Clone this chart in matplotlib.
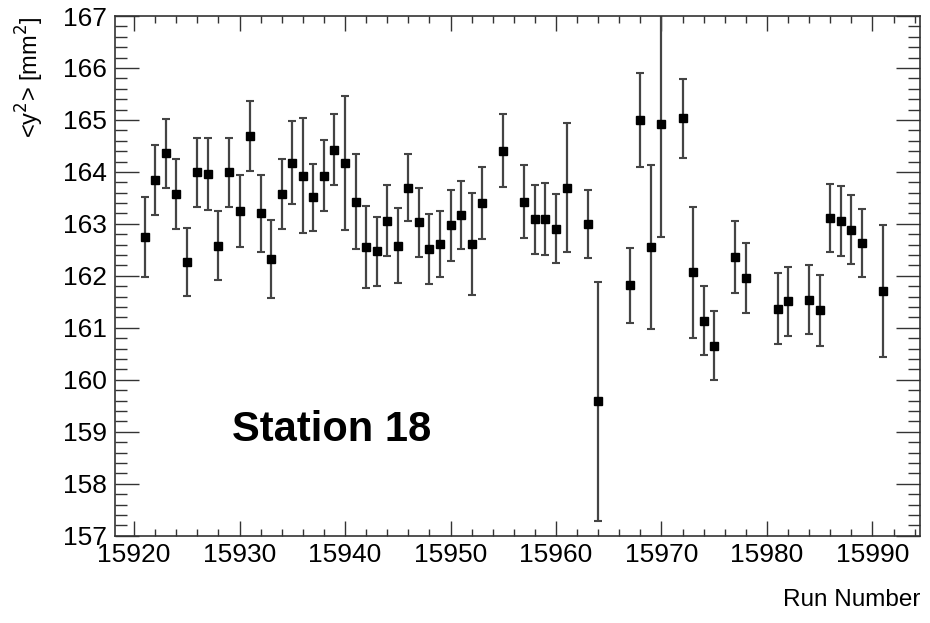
import matplotlib
matplotlib.use("Agg")
import matplotlib.pyplot as plt
from matplotlib.ticker import MultipleLocator

plt.rcParams['font.family'] = ['Liberation Sans', 'DejaVu Sans']

# Run numbers, mean <y^2> values and errors
runs = [15921, 15922, 15923, 15924, 15925, 15926, 15927, 15928, 15929, 15930,
        15931, 15932, 15933, 15934, 15935, 15936, 15937, 15938, 15939, 15940,
        15941, 15942, 15943, 15944, 15945, 15946, 15947, 15948, 15949, 15950,
        15951, 15952, 15953, 15955, 15957, 15958, 15959, 15960, 15961, 15963,
        15964, 15967, 15968, 15969, 15970, 15972, 15973, 15974, 15975, 15977,
        15978, 15981, 15982, 15984, 15985, 15986, 15987, 15988, 15989, 15991]
y2_mean = [162.75, 163.84, 164.36, 163.57, 162.27, 163.99, 163.96, 162.58, 163.99, 163.25,
           164.69, 163.20, 162.32, 163.57, 164.18, 163.93, 163.51, 163.93, 164.43, 164.18,
           163.43, 162.56, 162.47, 163.06, 162.58, 163.70, 163.03, 162.52, 162.61, 162.97,
           163.17, 162.61, 163.40, 164.41, 163.43, 163.09, 163.09, 162.91, 163.70, 163.00,
           159.59, 161.82, 165.00, 162.56, 164.92, 165.03, 162.07, 161.14, 160.66, 162.36,
           161.96, 161.37, 161.51, 161.54, 161.34, 163.11, 163.06, 162.89, 162.63, 161.71]
y2_err = [0.77, 0.67, 0.66, 0.67, 0.65, 0.67, 0.69, 0.66, 0.66, 0.69,
          0.68, 0.74, 0.75, 0.67, 0.80, 1.11, 0.65, 0.68, 0.69, 1.29,
          0.92, 0.79, 0.66, 0.68, 0.72, 0.65, 0.66, 0.67, 0.64, 0.68,
          0.65, 0.98, 0.70, 0.70, 0.70, 0.66, 0.69, 0.66, 1.25, 0.65,
          2.30, 0.72, 0.90, 1.58, 2.17, 0.76, 1.26, 0.67, 0.67, 0.69,
          0.67, 0.68, 0.66, 0.66, 0.68, 0.66, 0.67, 0.66, 0.66, 1.27]

fig = plt.figure(figsize=(9.3, 6.23), dpi=100)
ax = fig.add_axes([0.1237, 0.1401, 0.8655, 0.8342])

ax.errorbar(runs, y2_mean, yerr=y2_err, fmt='s', color='black', markersize=5.8,
            ecolor='#444444', elinewidth=1.6, capsize=3.2, capthick=1.5)

ax.set_xlim(15918.2, 15994.5)
ax.set_ylim(157, 167)

ax.xaxis.set_major_locator(MultipleLocator(10))
ax.xaxis.set_minor_locator(MultipleLocator(2))
ax.yaxis.set_major_locator(MultipleLocator(1))
ax.yaxis.set_minor_locator(MultipleLocator(0.2))

ax.tick_params(which='both', direction='in', top=True, right=True,
               width=1.0, color='#333333', labelsize=19)
ax.tick_params(axis='x', which='major', length=10.5, pad=5)
ax.tick_params(axis='x', which='minor', length=5)
ax.tick_params(axis='y', which='major', length=17, pad=6)
ax.tick_params(axis='y', which='minor', length=8.5)

for sp in ax.spines.values():
    sp.set_linewidth(1.2)
    sp.set_color('#333333')

ax.set_xlabel("Run Number", fontsize=17.5, ha='right', x=1.0, labelpad=16)
ax.set_ylabel(r"<y$^{2}$> [mm$^{2}$]", fontsize=17, ha='right', y=1.0, labelpad=12)

ax.text(0.1453, 0.2034, "Station 18", transform=ax.transAxes, fontsize=30,
        fontweight='bold', ha='left', va='center')

fig.savefig("out.png", dpi=100)
